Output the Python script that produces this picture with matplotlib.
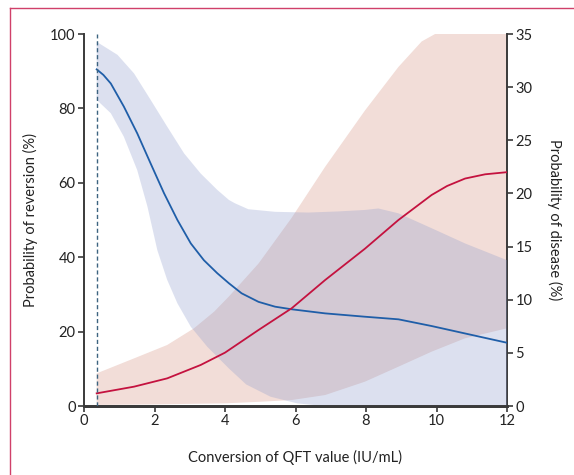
import matplotlib
matplotlib.use("Agg")
import matplotlib.pyplot as plt
from matplotlib.lines import Line2D

plt.rcParams['font.family'] = ['Lato', 'DejaVu Sans']

# ---- data ----
conv_start = 0.36

rev_x = [0.36, 0.55, 0.76, 1.13, 1.51, 1.89, 2.27, 2.65, 3.03, 3.40, 3.78, 4.11, 4.47, 4.95,
         5.42, 5.89, 6.84, 7.97, 8.92, 9.86, 10.81, 12.0]
rev_y = [90.5, 89.0, 86.7, 80.5, 73.3, 65.2, 57.2, 50.0, 43.7, 39.2, 35.7, 33.0, 30.3, 28.0,
         26.7, 26.0, 24.9, 24.0, 23.3, 21.5, 19.5, 17.0]

rev_up_x = [0.36, 0.95, 1.42, 1.89, 2.36, 2.84, 3.31, 3.78, 4.11, 4.28, 4.66, 5.42, 6.36,
            7.2, 7.97, 8.35, 8.92, 9.86, 10.81, 12.0]
rev_up_y = [97.9, 94.4, 89.4, 82.3, 75.1, 67.9, 62.5, 58.1, 55.4, 54.5, 52.9, 52.2, 52.0,
            52.3, 52.7, 53.1, 51.8, 47.8, 43.7, 39.2]

rev_lo_x = [0.36, 0.76, 1.13, 1.51, 1.80, 2.08, 2.36, 2.65, 3.03, 3.50, 4.11, 4.6, 5.29,
            6.05, 6.8, 12.0]
rev_lo_y = [82.3, 78.7, 72.4, 63.4, 53.6, 41.9, 33.9, 27.6, 21.3, 15.9, 10.1, 5.8, 2.5,
            0.7, 0.0, 0.0]

dis_x = [0.36, 1.42, 2.36, 3.31, 4.0, 4.95, 5.89, 6.84, 7.97, 8.92, 9.86, 10.3, 10.81,
         11.38, 12.0]
dis_y = [1.19, 1.82, 2.60, 3.86, 5.02, 7.15, 9.19, 11.85, 14.8, 17.5, 19.85, 20.7, 21.4,
         21.8, 22.0]

dis_up_x = [0.36, 1.42, 2.36, 3.12, 3.69, 4.11, 4.95, 5.89, 6.84, 7.97, 8.92, 9.58, 9.96, 12.0]
dis_up_y = [3.07, 4.48, 5.74, 7.31, 8.87, 10.3, 13.4, 17.7, 22.5, 27.8, 31.9, 34.3, 35.0, 35.0]

dis_lo_x = [0.36, 2.0, 4.0, 5.0, 5.89, 6.84, 7.97, 8.92, 9.86, 10.81, 12.0]
dis_lo_y = [0.1, 0.15, 0.25, 0.4, 0.56, 1.03, 2.29, 3.70, 5.11, 6.37, 7.31]

x_ticks = [0, 2, 4, 6, 8, 10, 12]
left_ticks = [0, 20, 40, 60, 80, 100]
right_ticks = [0, 5, 10, 15, 20, 25, 30, 35]

# ---- figure ----
W, H = 574, 475
fig = plt.figure(figsize=(W / 100, H / 100), dpi=100)
ax = fig.add_axes([84 / W, 1 - 406 / H, (507 - 84) / W, (406 - 34) / H])
ax2 = ax.twinx()

blue = '#1f5ea8'
red = '#c4123f'
axcol = '#3a3a3a'

ax.set_zorder(ax2.get_zorder() + 1)
ax.patch.set_visible(False)

# red band (right axis) behind
ax2.fill(list(dis_up_x) + list(dis_lo_x[::-1]), list(dis_up_y) + list(dis_lo_y[::-1]),
         color='#f2ddd8', lw=0, zorder=1)
# blue band (left axis) semi-transparent over it
ax.fill(list(rev_up_x) + list(rev_lo_x[::-1]), list(rev_up_y) + list(rev_lo_y[::-1]),
        color='#8d9bcc', alpha=0.3, lw=0, zorder=1)

ax.plot(rev_x, rev_y, color=blue, lw=1.3, zorder=3, solid_joinstyle='round')
# red line uses the right-hand scale but is drawn in the top axes
ax.add_line(Line2D(dis_x, dis_y, color=red, lw=1.3, zorder=3,
                   solid_joinstyle='round', transform=ax2.transData))

ax.plot([conv_start, conv_start], [0, 100], color='#3d6480', lw=1.0,
        dashes=(3, 2), zorder=4)

ax.set_xlim(0, 12)
ax.set_ylim(0, 100)
ax2.set_ylim(0, 35)

ax.set_xticks(x_ticks)
ax.set_yticks(left_ticks)
ax2.set_yticks(right_ticks)

for a in (ax, ax2):
    a.spines['top'].set_visible(False)
    for s in ('left', 'right', 'bottom'):
        a.spines[s].set_color(axcol)
    a.spines['left'].set_linewidth(1.4)
    a.spines['right'].set_linewidth(1.4)
    a.spines['bottom'].set_linewidth(2.0)
    a.tick_params(direction='out', length=4, width=1.2, color=axcol,
                  labelsize=10.5, labelcolor='#222222', pad=2)
ax.spines['right'].set_visible(False)
ax2.spines['left'].set_visible(False)

ax.set_xlabel('Conversion of QFT value (IU/mL)', fontsize=10.5, color='#222222')
ax.set_ylabel('Probability of reversion (%)', fontsize=10.5, color='#222222')
ax2.set_ylabel('Probability of disease (%)', fontsize=10.5, color='#222222', rotation=270,
               va='center')
ax.xaxis.set_label_coords(0.5, -0.118)
ax.yaxis.set_label_coords(-0.109, 0.5)
ax2.yaxis.set_label_coords(1.113, 0.5)

# pink frame
bc = '#d0406a'
fig.add_artist(Line2D([10 / W, 1.0], [1 - 8 / H, 1 - 8 / H], color=bc, lw=1.0))
fig.add_artist(Line2D([10 / W, 10 / W], [0.0, 1 - 8 / H], color=bc, lw=1.0))

fig.savefig('out.png', dpi=100)
